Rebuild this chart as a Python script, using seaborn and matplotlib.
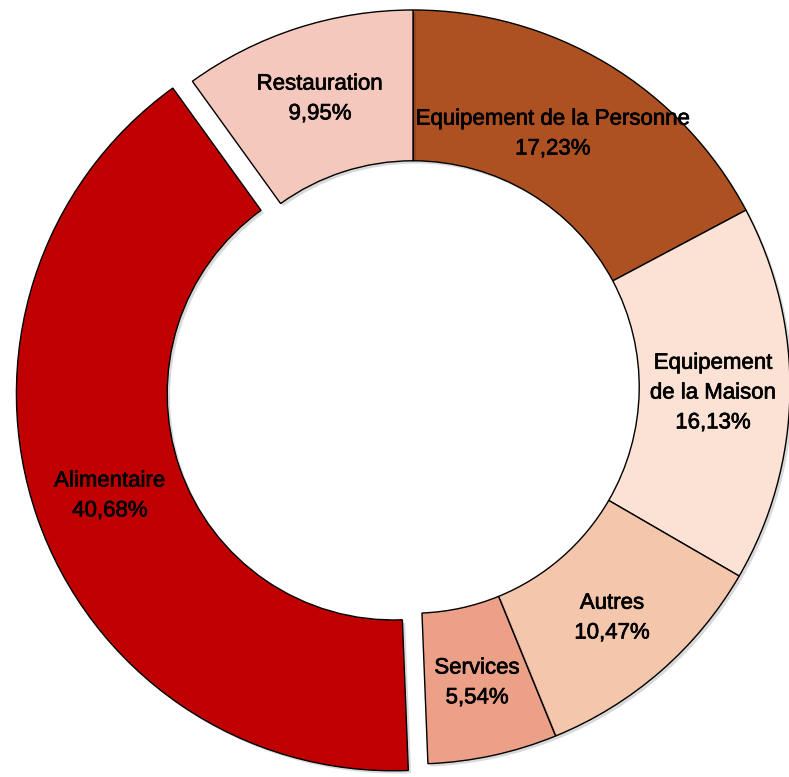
import matplotlib
matplotlib.use("Agg")
import matplotlib.pyplot as plt
import matplotlib.patheffects as pe
import seaborn as sns

# data
categories = ["Equipement de la Personne", "Equipement\nde la Maison", "Autres",
              "Services", "Alimentaire", "Restauration"]
shares = [17.23, 16.13, 10.47, 5.54, 40.68, 9.95]
colors = ["#AD5122", "#FBE2D5", "#F4C6AB", "#ECA088", "#C00000", "#F4C8BC"]
explode = [0, 0, 0, 0, 0.055, 0]

# label centres (data units, pie radius = 1)
label_pos = [(0.371, 0.671), (0.796, -0.016), (0.528, -0.613),
             (0.170, -0.785), (-0.804, -0.289), (-0.247, 0.764)]

sns.set_theme(style="white")
plt.rcParams['font.family'] = ['Liberation Sans', 'DejaVu Sans']

fig = plt.figure(figsize=(7.89, 7.77), dpi=100)
ax = fig.add_axes([0, 0, 1, 1])

wedges, _ = ax.pie(shares, colors=colors, explode=explode, startangle=90,
                   counterclock=False, radius=1,
                   wedgeprops=dict(width=0.40, edgecolor="black", linewidth=1.0))
for w in wedges:
    w.set_path_effects([pe.SimplePatchShadow(offset=(2, -2), shadow_rgbFace="black", alpha=0.15),
                        pe.Normal()])

for name, val, (x, y) in zip(categories, shares, label_pos):
    txt = name + "\n" + f"{val:.2f}".replace(".", ",") + "%"
    ax.text(x, y, txt, ha="center", va="center", fontsize=16, color="black",
            linespacing=1.55,
            path_effects=[pe.withStroke(linewidth=0.5, foreground="black")])

ax.set_xlim(-1.0955, 0.9973)
ax.set_ylim(-1.0345, 1.0265)
ax.set_aspect("equal")
ax.axis("off")

fig.savefig("out.png", dpi=100)
